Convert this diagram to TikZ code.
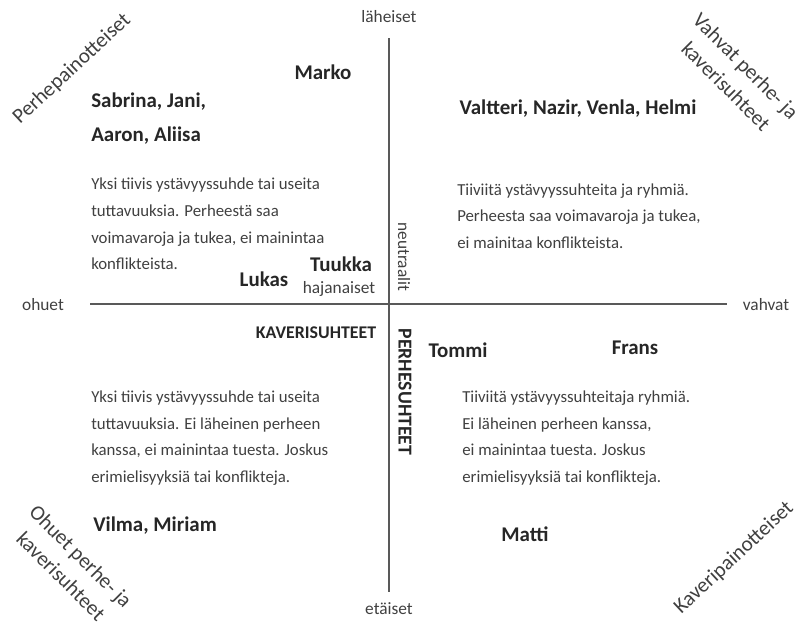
\documentclass[tikz,border=0pt]{standalone}
\usepackage{fontspec}
\setmainfont{Carlito}
\usepackage{xcolor}
\usetikzlibrary{positioning}
\definecolor{qInk}{HTML}{262626}
\definecolor{qText}{HTML}{404040}
\definecolor{qAxis}{HTML}{595959}
\tikzset{
  namelbl/.style={font=\fontsize{15.7}{18}\selectfont\bfseries,text=qInk,inner sep=0pt},
  bodytxt/.style={font=\fontsize{12.6}{19.9}\selectfont,text=qText,align=left,inner sep=0pt,anchor=west},
  axlbl/.style={font=\fontsize{13}{15}\selectfont,text=qText,inner sep=0pt},
  headlbl/.style={font=\fontsize{13.4}{15}\selectfont\bfseries,text=qInk,inner sep=0pt},
  cornerlbl/.style={font=\fontsize{15.8}{21}\selectfont,text=qText,align=center,inner sep=0pt},
  axisline/.style={draw=qAxis,line width=0.8pt},
}
\begin{document}
\begin{tikzpicture}[x=0.75pt,y=-0.75pt]
  \useasboundingbox (0,0) rectangle (811,625);

  % axes
  \coordinate (xl) at (90,304);
  \coordinate (xr) at (727,304);
  \coordinate (yt) at (389,38);
  \coordinate (yb) at (389,592);
  \draw[axisline] (xl) -- (xr);
  \draw[axisline] (yt) -- (yb);

  \node[axlbl] (lah) at (389,17) {läheiset};
  \node[axlbl] (eta) at (389,609) {etäiset};
  \node[axlbl] (ohu) at (43,305) {ohuet};
  \node[axlbl] (vah) at (766,305) {vahvat};
  \node[axlbl,rotate=-90] (neu) at (404,257) {neutraalit};
  \node[axlbl] (haj) at (339,289) {hajanaiset};
  \node[headlbl] (kav) at (316,333) {KAVERISUHTEET};
  \node[headlbl,font=\fontsize{14.8}{16}\selectfont\bfseries,rotate=-90] (per) at (405,392) {PERHESUHTEET};

  % corner labels
  \node[cornerlbl,rotate=43] (cUL) at (72,69) {Perhepainotteiset};
  \node[cornerlbl,rotate=-45] (cUR) at (736,76) {Vahvat perhe- ja\\kaverisuhteet};
  \node[cornerlbl,rotate=-45] (cLL) at (71,566) {Ohuet perhe- ja\\kaverisuhteet};
  \node[cornerlbl,rotate=43] (cLR) at (734,558) {Kaveripainotteiset};

  % names
  \node[namelbl] (marko) at (323,72) {Marko};
  \node[namelbl,anchor=west] (sabr) at (91,102) {Sabrina, Jani,};
  \node[namelbl,anchor=west] (aaron) at (91,136) {Aaron, Aliisa};
  \node[namelbl] (valt) at (578,109) {Valtteri, Nazir, Venla, Helmi};
  \node[namelbl] (lukas) at (264,279) {Lukas};
  \node[namelbl] (tuukka) at (341,264) {Tuukka};
  \node[namelbl] (tommi) at (458,350) {Tommi};
  \node[namelbl] (frans) at (635,348) {Frans};
  \node[namelbl,anchor=west] (vilma) at (93,526) {Vilma, Miriam};
  \node[namelbl] (matti) at (525,534) {Matti};

  % quadrant descriptions
  \node[bodytxt] (tUL) at (91,224) {Yksi tiivis ystävyyssuhde tai useita\\
    tuttavuuksia. Perheestä saa\\voimavaroja ja tukea, ei mainintaa\\konflikteista.};
  \node[bodytxt] (tUR) at (457,216) {Tiiviitä ystävyyssuhteita ja ryhmiä.\\
    Perheesta saa voimavaroja ja tukea,\\ei mainitaa konflikteista.};
  \node[bodytxt] (tLL) at (91,438) {Yksi tiivis ystävyyssuhde tai useita\\
    tuttavuuksia. Ei läheinen perheen\\kanssa, ei mainintaa tuesta. Joskus\\erimielisyyksiä tai konflikteja.};
  \node[bodytxt] (tLR) at (462,438) {Tiiviitä ystävyyssuhteitaja ryhmiä.\\
    Ei läheinen perheen kanssa,\\ei mainintaa tuesta. Joskus\\erimielisyyksiä tai konflikteja.};
\end{tikzpicture}
\end{document}
